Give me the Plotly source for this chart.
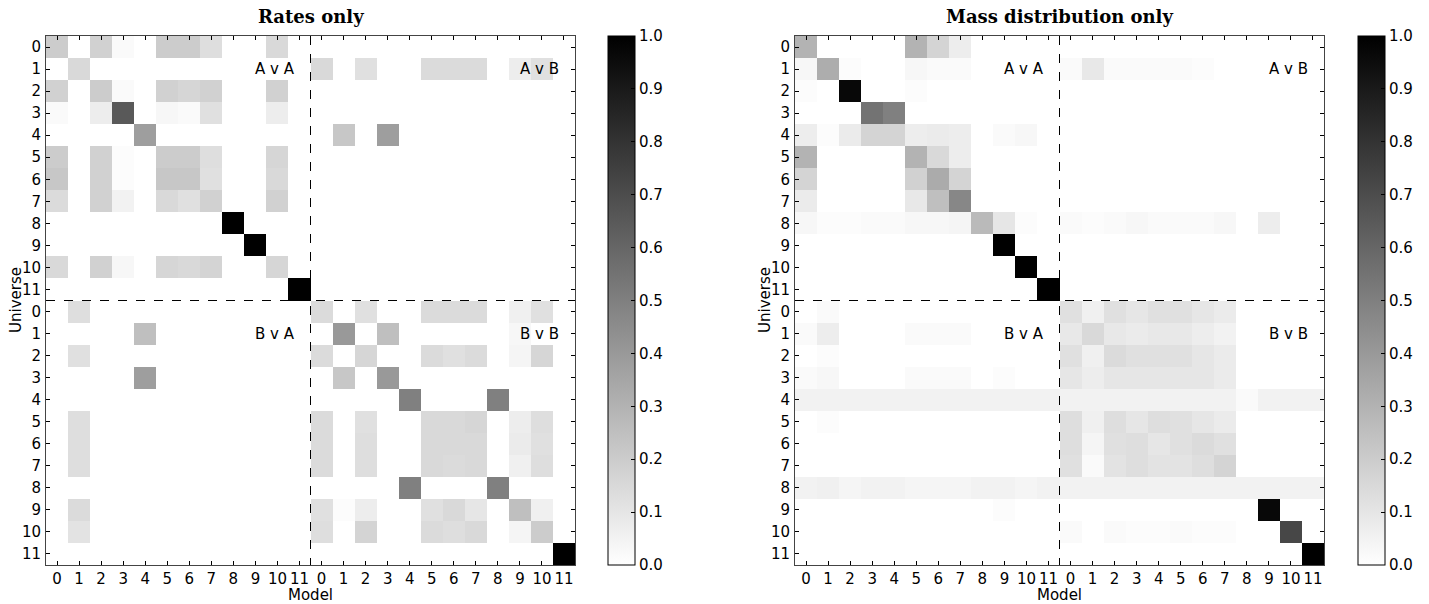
import numpy as np
import plotly.graph_objects as go

tick_labels = [str(i) for i in range(12)] * 2
quadrant_labels = ["A v A", "A v B", "B v A", "B v B"]
titles = ["Rates only", "Mass distribution only"]

# ---------------- Rates only ----------------
rates_AA = [
    [0.20, 0, 0.18, 0.02, 0, 0.20, 0.20, 0.13, 0, 0, 0.15, 0],
    [0, 0.15, 0, 0, 0, 0, 0, 0, 0, 0, 0, 0],
    [0.18, 0, 0.20, 0.02, 0, 0.18, 0.16, 0.18, 0, 0, 0.18, 0],
    [0.02, 0, 0.07, 0.65, 0, 0.03, 0.02, 0.12, 0, 0, 0.07, 0],
    [0, 0, 0, 0, 0.38, 0, 0, 0, 0, 0, 0, 0],
    [0.20, 0, 0.18, 0.01, 0, 0.20, 0.20, 0.13, 0, 0, 0.16, 0],
    [0.22, 0, 0.18, 0.01, 0, 0.22, 0.22, 0.12, 0, 0, 0.15, 0],
    [0.14, 0, 0.18, 0.05, 0, 0.15, 0.12, 0.18, 0, 0, 0.18, 0],
    [0, 0, 0, 0, 0, 0, 0, 0, 1.0, 0, 0, 0],
    [0, 0, 0, 0, 0, 0, 0, 0, 0, 1.0, 0, 0],
    [0.15, 0, 0.18, 0.03, 0, 0.16, 0.15, 0.17, 0, 0, 0.16, 0],
    [0, 0, 0, 0, 0, 0, 0, 0, 0, 0, 0, 1.0],
]
rates_AB = [
    [0, 0, 0, 0, 0, 0, 0, 0, 0, 0, 0, 0],
    [0.15, 0, 0.12, 0, 0, 0.14, 0.14, 0.14, 0, 0.07, 0.12, 0],
    [0, 0, 0, 0, 0, 0, 0, 0, 0, 0, 0, 0],
    [0, 0, 0, 0, 0, 0, 0, 0, 0, 0, 0, 0],
    [0, 0.22, 0, 0.38, 0, 0, 0, 0, 0, 0, 0, 0],
    [0, 0, 0, 0, 0, 0, 0, 0, 0, 0, 0, 0],
    [0, 0, 0, 0, 0, 0, 0, 0, 0, 0, 0, 0],
    [0, 0, 0, 0, 0, 0, 0, 0, 0, 0, 0, 0],
    [0, 0, 0, 0, 0, 0, 0, 0, 0, 0, 0, 0],
    [0, 0, 0, 0, 0, 0, 0, 0, 0, 0, 0, 0],
    [0, 0, 0, 0, 0, 0, 0, 0, 0, 0, 0, 0],
    [0, 0, 0, 0, 0, 0, 0, 0, 0, 0, 0, 0],
]
rates_BA = [
    [0, 0.13, 0, 0, 0, 0, 0, 0, 0, 0, 0, 0],
    [0, 0, 0, 0, 0.25, 0, 0, 0, 0, 0, 0, 0],
    [0, 0.12, 0, 0, 0, 0, 0, 0, 0, 0, 0, 0],
    [0, 0, 0, 0, 0.38, 0, 0, 0, 0, 0, 0, 0],
    [0, 0, 0, 0, 0, 0, 0, 0, 0, 0, 0, 0],
    [0, 0.13, 0, 0, 0, 0, 0, 0, 0, 0, 0, 0],
    [0, 0.13, 0, 0, 0, 0, 0, 0, 0, 0, 0, 0],
    [0, 0.13, 0, 0, 0, 0, 0, 0, 0, 0, 0, 0],
    [0, 0, 0, 0, 0, 0, 0, 0, 0, 0, 0, 0],
    [0, 0.14, 0, 0, 0, 0, 0, 0, 0, 0, 0, 0],
    [0, 0.11, 0, 0, 0, 0, 0, 0, 0, 0, 0, 0],
    [0, 0, 0, 0, 0, 0, 0, 0, 0, 0, 0, 0],
]
rates_BB = [
    [0.14, 0, 0.12, 0, 0, 0.14, 0.14, 0.14, 0, 0.06, 0.12, 0],
    [0, 0.40, 0, 0.25, 0, 0, 0, 0, 0, 0.03, 0, 0],
    [0.14, 0, 0.16, 0, 0, 0.14, 0.12, 0.14, 0, 0.04, 0.16, 0],
    [0, 0.22, 0, 0.40, 0, 0, 0, 0, 0, 0, 0, 0],
    [0, 0, 0, 0, 0.50, 0, 0, 0, 0.50, 0, 0, 0],
    [0.14, 0, 0.12, 0, 0, 0.15, 0.15, 0.16, 0, 0.07, 0.13, 0],
    [0.14, 0, 0.13, 0, 0, 0.15, 0.15, 0.15, 0, 0.08, 0.12, 0],
    [0.14, 0, 0.13, 0, 0, 0.15, 0.14, 0.15, 0, 0.06, 0.13, 0],
    [0, 0, 0, 0, 0.50, 0, 0, 0, 0.50, 0, 0, 0],
    [0.12, 0.01, 0.07, 0, 0, 0.12, 0.15, 0.10, 0, 0.25, 0.06, 0],
    [0.13, 0, 0.17, 0, 0, 0.14, 0.13, 0.15, 0, 0.04, 0.20, 0],
    [0, 0, 0, 0, 0, 0, 0, 0, 0, 0, 0, 1.0],
]

# ---------------- Mass distribution only ----------------
mass_AA = [
    [0.30, 0, 0, 0, 0, 0.30, 0.17, 0.07, 0, 0, 0, 0],
    [0.03, 0.32, 0.01, 0, 0, 0.03, 0.02, 0.02, 0, 0, 0, 0],
    [0.01, 0, 0.97, 0, 0, 0.01, 0, 0, 0, 0, 0, 0],
    [0, 0, 0, 0.55, 0.50, 0, 0, 0, 0, 0, 0, 0],
    [0.07, 0.01, 0.08, 0.17, 0.17, 0.07, 0.08, 0.07, 0, 0.02, 0.03, 0],
    [0.30, 0, 0, 0, 0, 0.30, 0.15, 0.07, 0, 0, 0, 0],
    [0.17, 0, 0, 0, 0, 0.18, 0.33, 0.17, 0, 0, 0, 0],
    [0.08, 0, 0, 0, 0, 0.09, 0.25, 0.47, 0, 0, 0, 0],
    [0.03, 0.01, 0.01, 0.02, 0.02, 0.03, 0.03, 0.04, 0.27, 0.10, 0.01, 0],
    [0, 0, 0, 0, 0, 0, 0, 0, 0, 1.0, 0, 0],
    [0, 0, 0, 0, 0, 0, 0, 0, 0, 0, 1.0, 0],
    [0, 0, 0, 0, 0, 0, 0, 0, 0, 0, 0, 1.0],
]
mass_AB = [
    [0, 0, 0, 0, 0, 0, 0, 0, 0, 0, 0, 0],
    [0.02, 0.09, 0.02, 0.02, 0.02, 0.02, 0.01, 0, 0, 0, 0, 0],
    [0, 0, 0, 0, 0, 0, 0, 0, 0, 0, 0, 0],
    [0, 0, 0, 0, 0, 0, 0, 0, 0, 0, 0, 0],
    [0, 0, 0, 0, 0, 0, 0, 0, 0, 0, 0, 0],
    [0, 0, 0, 0, 0, 0, 0, 0, 0, 0, 0, 0],
    [0, 0, 0, 0, 0, 0, 0, 0, 0, 0, 0, 0],
    [0, 0, 0, 0, 0, 0, 0, 0, 0, 0, 0, 0],
    [0.02, 0.01, 0.02, 0.03, 0.02, 0.02, 0.02, 0.03, 0, 0.07, 0, 0],
    [0, 0, 0, 0, 0, 0, 0, 0, 0, 0, 0, 0],
    [0, 0, 0, 0, 0, 0, 0, 0, 0, 0, 0, 0],
    [0, 0, 0, 0, 0, 0, 0, 0, 0, 0, 0, 0],
]
mass_BA = [
    [0, 0.02, 0, 0, 0, 0, 0, 0, 0, 0, 0, 0],
    [0.02, 0.07, 0, 0, 0, 0.02, 0.02, 0.02, 0, 0, 0, 0],
    [0, 0.01, 0, 0, 0, 0, 0, 0, 0, 0, 0, 0],
    [0.02, 0.03, 0, 0, 0, 0.02, 0.02, 0.02, 0, 0.01, 0, 0],
    [0.05, 0.05, 0.05, 0.05, 0.05, 0.05, 0.05, 0.05, 0.05, 0.05, 0.05, 0.05],
    [0, 0.01, 0, 0, 0, 0, 0, 0, 0, 0, 0, 0],
    [0, 0, 0, 0, 0, 0, 0, 0, 0, 0, 0, 0],
    [0, 0, 0, 0, 0, 0, 0, 0, 0, 0, 0, 0],
    [0.05, 0.06, 0.04, 0.05, 0.05, 0.04, 0.04, 0.04, 0.05, 0.05, 0.04, 0.05],
    [0, 0, 0, 0, 0, 0, 0, 0, 0, 0.01, 0, 0],
    [0, 0, 0, 0, 0, 0, 0, 0, 0, 0, 0, 0],
    [0, 0, 0, 0, 0, 0, 0, 0, 0, 0, 0, 0],
]
mass_BB = [
    [0.12, 0.06, 0.12, 0.10, 0.12, 0.12, 0.10, 0.08, 0, 0, 0, 0],
    [0.09, 0.15, 0.09, 0.08, 0.09, 0.09, 0.07, 0.05, 0, 0, 0, 0],
    [0.12, 0.06, 0.14, 0.12, 0.12, 0.12, 0.10, 0.08, 0, 0, 0, 0],
    [0.10, 0.07, 0.10, 0.10, 0.10, 0.10, 0.10, 0.08, 0, 0, 0, 0],
    [0.05, 0.05, 0.05, 0.05, 0.05, 0.05, 0.05, 0.05, 0.02, 0.05, 0.05, 0.05],
    [0.13, 0.06, 0.13, 0.10, 0.13, 0.12, 0.10, 0.08, 0, 0, 0, 0],
    [0.13, 0.04, 0.12, 0.13, 0.10, 0.12, 0.14, 0.12, 0, 0, 0, 0],
    [0.12, 0.02, 0.11, 0.13, 0.11, 0.11, 0.13, 0.17, 0, 0, 0, 0],
    [0.05, 0.05, 0.05, 0.05, 0.05, 0.05, 0.05, 0.05, 0.05, 0.05, 0.05, 0.05],
    [0, 0, 0, 0, 0, 0, 0, 0, 0, 0.97, 0, 0],
    [0.02, 0, 0.02, 0.01, 0.01, 0.02, 0.01, 0.01, 0, 0, 0.72, 0],
    [0, 0, 0, 0, 0, 0, 0, 0, 0, 0, 0, 1.0],
]

rates = np.block([[np.array(rates_AA), np.array(rates_AB)],
                  [np.array(rates_BA), np.array(rates_BB)]])
mass = np.block([[np.array(mass_AA), np.array(mass_AB)],
                 [np.array(mass_BA), np.array(mass_BB)]])

W, H = 1429, 604
FONT = "DejaVu Sans"
idx = list(range(24))

# pixel layout
panels = [(46, 575), (795, 1324)]
top_px, bot_px = 36, 565
cbar_x = [608, 1358]

def px(x):
    return x / W

def py(y):
    return 1 - y / H

fig = go.Figure()
colorscale = [[0, "rgb(255,255,255)"], [1, "rgb(0,0,0)"]]

for k, (mat, (x0, x1)) in enumerate(zip([rates, mass], panels)):
    xa = "x" if k == 0 else "x2"
    ya = "y" if k == 0 else "y2"
    fig.add_trace(go.Heatmap(
        z=mat, x=idx, y=idx, xaxis=xa, yaxis=ya,
        zmin=0, zmax=1, colorscale=colorscale,
        colorbar=dict(
            x=px(cbar_x[k]), xanchor="left", xref="paper",
            y=py((top_px + bot_px) / 2), yanchor="middle", yref="paper",
            len=(bot_px - top_px) / H, lenmode="fraction",
            thickness=27, thicknessmode="pixels",
            outlinewidth=1, outlinecolor="black",
            tickvals=[i / 10 for i in range(11)],
            ticktext=[f"{i/10:.1f}" for i in range(11)],
            ticks="inside", ticklen=4, tickcolor="black",
            tickfont=dict(family=FONT, size=15, color="black"),
            ypad=0, xpad=0,
        ),
        hoverinfo="z",
    ))

axis_common = dict(
    tickmode="array", tickvals=idx, ticktext=tick_labels,
    ticks="inside", ticklen=4, tickcolor="black",
    showline=True, linecolor="#444", linewidth=1, mirror="ticks",
    showgrid=False, zeroline=False, range=[-0.5, 23.5],
    tickfont=dict(family=FONT, size=15, color="black"),
    automargin=False,
)

layout = dict(
    width=W, height=H, margin=dict(l=0, r=0, t=0, b=0, autoexpand=False),
    paper_bgcolor="white", plot_bgcolor="white", showlegend=False,
)
for k, (x0, x1) in enumerate(panels):
    sfx = "" if k == 0 else "2"
    layout["xaxis" + sfx] = dict(axis_common, domain=[px(x0), px(x1)],
                                 anchor="y" + sfx, ticklabelstandoff=0)
    layout["yaxis" + sfx] = dict(axis_common, domain=[py(bot_px), py(top_px)],
                                 anchor="x" + sfx, range=[23.5, -0.5],
                                 ticklabelstandoff=1)
fig.update_layout(**layout)

shapes = []
annotations = []
quad_pos = [(9.9, 1), (21.9, 1), (9.9, 13), (21.9, 13)]
for k, (x0, x1) in enumerate(panels):
    xr = "x" if k == 0 else "x2"
    yr = "y" if k == 0 else "y2"
    shapes.append(dict(type="line", xref=xr, yref=yr, x0=11.5, x1=11.5,
                       y0=-0.5, y1=23.5, line=dict(color="black", width=1, dash="dash")))
    shapes.append(dict(type="line", xref=xr, yref=yr, y0=11.5, y1=11.5,
                       x0=-0.5, x1=23.5, line=dict(color="black", width=1, dash="dash")))
    for lab, (qx, qy) in zip(quadrant_labels, quad_pos):
        annotations.append(dict(xref=xr, yref=yr, x=qx, y=qy, text=lab,
                                showarrow=False, xanchor="center", yanchor="middle",
                                font=dict(family=FONT, size=15, color="black")))
    cx = px((x0 + x1) / 2)
    annotations.append(dict(xref="paper", yref="paper", x=cx, y=py(16),
                            text="<b>" + titles[k] + "</b>", showarrow=False,
                            xanchor="center", yanchor="middle",
                            font=dict(family="DejaVu Serif", size=18, color="black")))
    annotations.append(dict(xref="paper", yref="paper", x=cx, y=py(595),
                            text="Model", showarrow=False,
                            xanchor="center", yanchor="middle",
                            font=dict(family=FONT, size=15, color="black")))
    annotations.append(dict(xref="paper", yref="paper", x=px(x0 - 30), y=py(300),
                            text="Universe", showarrow=False, textangle=-90,
                            xanchor="center", yanchor="middle",
                            font=dict(family=FONT, size=15, color="black")))

fig.update_layout(shapes=shapes, annotations=annotations)
fig.write_html("out.html", config={"displayModeBar": False},
               post_script="document.body.style.margin='0';document.body.style.overflow='hidden';")
